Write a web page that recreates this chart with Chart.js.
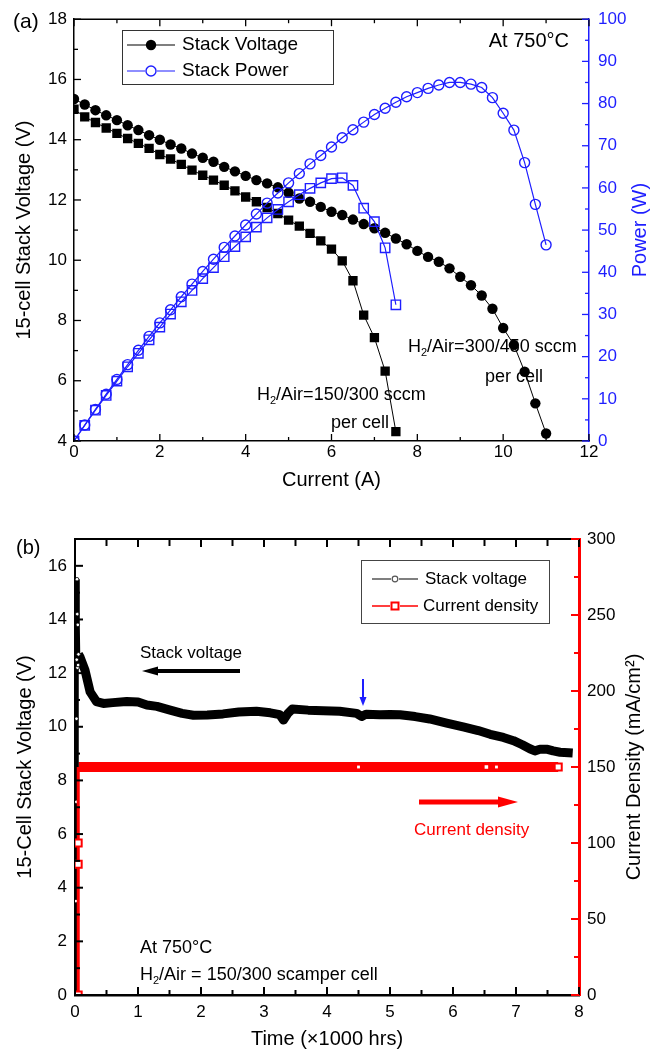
<!DOCTYPE html>
<html>
<head>
<meta charset="utf-8">
<script src="https://cdn.jsdelivr.net/npm/chart.js@4.4.0/dist/chart.umd.min.js"></script>
<style>
  html, body { margin: 0; padding: 0; background: #fff; }
  #wrap { position: relative; width: 664px; height: 1051px; }
  canvas { position: absolute; left: 0; }
  #chartA { top: 0; }
  #chartB { top: 492px; }
</style>
</head>
<body>
<div id="wrap">
  <canvas id="chartA" width="664" height="492"></canvas>
  <canvas id="chartB" width="664" height="559"></canvas>
</div>
<script>
// ---- panel (a): I-V-P curves, H2/Air = 300/450 sccm per cell (circles)
const currentHigh = [0, 0.25, 0.5, 0.75, 1, 1.25, 1.5, 1.75, 2, 2.25, 2.5, 2.75, 3, 3.25, 3.5, 3.75,
  4, 4.25, 4.5, 4.75, 5, 5.25, 5.5, 5.75, 6, 6.25, 6.5, 6.75, 7, 7.25, 7.5, 7.75,
  8, 8.25, 8.5, 8.75, 9, 9.25, 9.5, 9.75, 10, 10.25, 10.5, 10.75, 11];
const voltageHigh = [15.35, 15.17, 14.98, 14.81, 14.65, 14.48, 14.32, 14.15, 14.0, 13.84, 13.71, 13.54, 13.4, 13.27, 13.1, 12.95,
  12.8, 12.66, 12.55, 12.42, 12.24, 12.05, 11.94, 11.77, 11.61, 11.5, 11.35, 11.2, 11.06, 10.91, 10.72, 10.53,
  10.31, 10.11, 9.95, 9.73, 9.45, 9.17, 8.83, 8.39, 7.75, 7.19, 6.3, 5.25, 4.25];
const powerHigh = [0, 3.8, 7.5, 11.1, 14.6, 18.1, 21.5, 24.8, 28.0, 31.1, 34.2, 37.2, 40.2, 43.1, 45.9, 48.6,
  51.2, 53.8, 56.4, 58.8, 61.2, 63.4, 65.7, 67.7, 69.7, 71.9, 73.8, 75.6, 77.4, 78.9, 80.3, 81.6,
  82.6, 83.6, 84.4, 85.0, 85.0, 84.6, 83.8, 81.4, 77.7, 73.7, 66.0, 56.1, 46.5];

// H2/Air = 150/300 sccm per cell (squares)
const currentLow = [0, 0.25, 0.5, 0.75, 1, 1.25, 1.5, 1.75, 2, 2.25, 2.5, 2.75, 3, 3.25, 3.5, 3.75,
  4, 4.25, 4.5, 4.75, 5, 5.25, 5.5, 5.75, 6, 6.25, 6.5, 6.75, 7, 7.25, 7.5];
const voltageLow = [15.01, 14.76, 14.57, 14.39, 14.21, 14.04, 13.88, 13.71, 13.51, 13.36, 13.18, 12.99, 12.82, 12.66, 12.49, 12.3,
  12.1, 11.94, 11.75, 11.55, 11.33, 11.13, 10.89, 10.64, 10.37, 9.98, 9.32, 8.18, 7.43, 6.32, 4.31];
const powerLow = [0, 3.7, 7.3, 10.8, 14.2, 17.6, 20.8, 24.0, 27.0, 30.1, 33.0, 35.7, 38.5, 41.1, 43.7, 46.1,
  48.4, 50.7, 52.9, 54.9, 56.7, 58.4, 59.9, 61.2, 62.2, 62.4, 60.6, 55.2, 52.0, 45.8, 32.3];

// ---- panel (b): long-term test (time in 1000 hrs)
const spikeTime = [0.012, 0.016, 0.02, 0.024, 0.028, 0.032, 0.036, 0.04, 0.045, 0.05, 0.055];
const spikeVolt = [0, 3.5, 7.2, 10.3, 12.5, 15.5, 14.2, 12.2, 13.8, 12.3, 12.7];
const bandTime = [0.055, 0.08, 0.16, 0.24, 0.34, 0.45, 0.6, 0.82, 1.0, 1.14, 1.3, 1.51, 1.7, 1.88, 2.1, 2.35,
  2.6, 2.88, 3.1, 3.25, 3.31, 3.38, 3.45, 3.7, 3.94, 4.2, 4.47, 4.55, 4.62, 4.84, 5.0, 5.16,
  5.4, 5.63, 5.9, 6.16, 6.4, 6.59, 6.8, 6.96, 7.1, 7.22, 7.3, 7.38, 7.5, 7.59, 7.7, 7.9];
const bandVolt = [12.7, 12.6, 12.1, 11.3, 10.94, 10.87, 10.9, 10.94, 10.92, 10.81, 10.76, 10.62, 10.5, 10.43, 10.44, 10.48,
  10.55, 10.58, 10.52, 10.45, 10.25, 10.5, 10.66, 10.62, 10.6, 10.58, 10.5, 10.38, 10.47, 10.45, 10.46, 10.45,
  10.38, 10.29, 10.14, 10.0, 9.86, 9.72, 9.6, 9.48, 9.33, 9.18, 9.1, 9.16, 9.16, 9.1, 9.05, 9.02];
const cdStartTime = [0.05, 0.05, 0.05, 0.055];
const cdStartValue = [0, 86, 100, 150];
const cdBandTime = [0.055, 4.5, 6.53, 6.69, 7.67];
const cdBandValue = [150, 150, 150, 150, 150];

const FONT = "'Liberation Sans', Arial, Helvetica, sans-serif";
const BLUE = '#1e1eff';
const RED = '#ff0000';
Chart.defaults.font.family = FONT;
Chart.defaults.color = '#000';
Chart.defaults.animation = false;

function pts(xs, ys) {
    return xs.map((x, i) => ({ x: x, y: ys[i] }));
}

// Origin-style ticks pointing into the plot, plus the top frame line
const innerTicks = {
    id: 'innerTicks',
    afterDraw(chart, args, opts) {
        const ctx = chart.ctx;
        const a = chart.chartArea;
        ctx.save();
        ctx.strokeStyle = opts.topColor;
        ctx.lineWidth = opts.topWidth;
        ctx.beginPath();
        ctx.moveTo(a.left, a.top);
        ctx.lineTo(a.right, a.top);
        ctx.stroke();
        opts.axes.forEach(ax => {
            const s = chart.scales[ax.scale];
            const vals = s.ticks.map(t => t.value);
            ctx.strokeStyle = ax.color;
            ctx.lineWidth = ax.width;
            const tick = (v, len) => {
                const p = s.getPixelForValue(v);
                ctx.beginPath();
                if (ax.edge === 'bottom') { ctx.moveTo(p, a.bottom); ctx.lineTo(p, a.bottom - len); }
                else if (ax.edge === 'top') { ctx.moveTo(p, a.top); ctx.lineTo(p, a.top + len); }
                else if (ax.edge === 'left') { ctx.moveTo(a.left, p); ctx.lineTo(a.left + len, p); }
                else { ctx.moveTo(a.right, p); ctx.lineTo(a.right - len, p); }
                ctx.stroke();
            };
            vals.forEach(v => tick(v, ax.major));
            for (let i = 0; i < vals.length - 1; i++) {
                tick((vals[i] + vals[i + 1]) / 2, ax.minor);
            }
        });
        // right-hand axis title, read bottom to top like the left one
        if (opts.rightTitle) {
            const s = chart.scales.y2;
            ctx.translate(opts.rightTitle.x, (s.top + s.bottom) / 2);
            ctx.rotate(-Math.PI / 2);
            ctx.font = '20px ' + FONT;
            ctx.fillStyle = opts.rightTitle.color;
            ctx.textAlign = 'center';
            ctx.textBaseline = 'middle';
            ctx.fillText(opts.rightTitle.text, 0, 0);
        }
        ctx.restore();
    }
};

// text with a subscript part, left aligned, middle baseline
function subText(ctx, x, y, parts, size, color) {
    let cx = x;
    ctx.fillStyle = color || '#000';
    ctx.textAlign = 'left';
    ctx.textBaseline = 'middle';
    parts.forEach(p => {
        const sub = p[1];
        ctx.font = (sub ? Math.round(size * 0.62) : size) + 'px ' + FONT;
        ctx.fillText(p[0], cx, sub ? y + size * 0.32 : y);
        cx += ctx.measureText(p[0]).width;
    });
}

function label(ctx, text, x, y, size, color, align) {
    ctx.font = size + 'px ' + FONT;
    ctx.fillStyle = color || '#000';
    ctx.textAlign = align || 'left';
    ctx.textBaseline = 'middle';
    ctx.fillText(text, x, y);
}

function arrow(ctx, x1, y1, x2, y2, w, head, half, color) {
    const ang = Math.atan2(y2 - y1, x2 - x1);
    const bx = x2 - head * Math.cos(ang);
    const by = y2 - head * Math.sin(ang);
    ctx.strokeStyle = color;
    ctx.fillStyle = color;
    ctx.lineWidth = w;
    ctx.beginPath();
    ctx.moveTo(x1, y1);
    ctx.lineTo(bx, by);
    ctx.stroke();
    ctx.beginPath();
    ctx.moveTo(x2, y2);
    ctx.lineTo(bx + half * Math.sin(ang), by - half * Math.cos(ang));
    ctx.lineTo(bx - half * Math.sin(ang), by + half * Math.cos(ang));
    ctx.closePath();
    ctx.fill();
}

function axisTitle(text, color, pad) {
    return { display: true, text: text, color: color, font: { size: 20 }, padding: pad };
}

// ---------------- panel (a) ----------------
const notesA = {
    id: 'notesA',
    beforeDatasetsDraw(chart) {
        const ctx = chart.ctx;
        ctx.save();
        subText(ctx, 408, 347, [['H', false], ['2', true], ['/Air=300/450 sccm', false]], 18);
        label(ctx, 'per cell', 485, 377, 18);
        subText(ctx, 257, 395, [['H', false], ['2', true], ['/Air=150/300 sccm', false]], 18);
        label(ctx, 'per cell', 331, 423, 18);
        ctx.restore();
    },
    afterDraw(chart) {
        const ctx = chart.ctx;
        ctx.save();
        label(ctx, '(a)', 13, 22, 21);
        label(ctx, 'At 750°C', 569, 41, 20, '#000', 'right');
        // legend box
        ctx.strokeStyle = '#333';
        ctx.lineWidth = 1;
        ctx.fillStyle = '#fff';
        ctx.fillRect(122, 30, 211, 54);
        ctx.strokeRect(122.5, 30.5, 211, 54);
        ctx.lineWidth = 1.2;
        ctx.strokeStyle = '#000';
        ctx.beginPath(); ctx.moveTo(127, 45); ctx.lineTo(175, 45); ctx.stroke();
        ctx.fillStyle = '#000';
        ctx.beginPath(); ctx.arc(151, 45, 5.2, 0, Math.PI * 2); ctx.fill();
        ctx.strokeStyle = BLUE;
        ctx.beginPath(); ctx.moveTo(127, 71); ctx.lineTo(145, 71); ctx.moveTo(157, 71); ctx.lineTo(175, 71); ctx.stroke();
        ctx.lineWidth = 1.4;
        ctx.beginPath(); ctx.arc(151, 71, 5, 0, Math.PI * 2); ctx.stroke();
        label(ctx, 'Stack Voltage', 182, 45, 19);
        label(ctx, 'Stack Power', 182, 71, 19);
        ctx.restore();
    }
};

new Chart(document.getElementById('chartA'), {
    type: 'scatter',
    data: {
        datasets: [{
            label: 'Stack Power',
            data: pts(currentHigh, powerHigh),
            yAxisID: 'y2',
            showLine: true,
            borderColor: BLUE,
            borderWidth: 1.2,
            pointStyle: 'circle',
            pointRadius: 5,
            pointBorderWidth: 1.4,
            pointBorderColor: BLUE,
            pointBackgroundColor: 'rgba(255,255,255,0)',
            order: 1
        }, {
            label: 'Stack Power 150/300',
            data: pts(currentLow, powerLow),
            yAxisID: 'y2',
            showLine: true,
            borderColor: BLUE,
            borderWidth: 1.2,
            pointStyle: 'rect',
            pointRadius: 6.6,
            pointBorderWidth: 1.4,
            pointBorderColor: BLUE,
            pointBackgroundColor: 'rgba(255,255,255,0)',
            order: 1
        }, {
            label: 'Stack Voltage',
            data: pts(currentHigh, voltageHigh),
            yAxisID: 'y',
            showLine: true,
            borderColor: '#000',
            borderWidth: 1,
            pointStyle: 'circle',
            pointRadius: 5.2,
            pointBorderWidth: 0,
            pointBackgroundColor: '#000',
            order: 2
        }, {
            label: 'Stack Voltage 150/300',
            data: pts(currentLow, voltageLow),
            yAxisID: 'y',
            showLine: true,
            borderColor: '#000',
            borderWidth: 1,
            pointStyle: 'rect',
            pointRadius: 6.6,
            pointBorderWidth: 0,
            pointBackgroundColor: '#000',
            order: 2
        }]
    },
    options: {
        responsive: false,
        events: [],
        layout: { padding: { top: 19, left: 0, right: 0, bottom: 0 } },
        plugins: {
            legend: { display: false },
            tooltip: { enabled: false },
            innerTicks: {
                topColor: '#000',
                topWidth: 1.5,
                rightTitle: { text: 'Power (W)', color: BLUE, x: 640 },
                axes: [
                    { scale: 'x', edge: 'bottom', major: 7, minor: 4, color: '#000', width: 1.3 },
                    { scale: 'x', edge: 'top', major: 7, minor: 4, color: '#000', width: 1.3 },
                    { scale: 'y', edge: 'left', major: 7, minor: 4, color: '#000', width: 1.3 },
                    { scale: 'y2', edge: 'right', major: 7, minor: 4, color: BLUE, width: 1.3 }
                ]
            }
        },
        scales: {
            x: {
                type: 'linear', position: 'bottom', min: 0, max: 12,
                afterFit: s => { s.height = 51; },
                ticks: { stepSize: 2, padding: 1, includeBounds: false, font: { size: 17 }, color: '#000' },
                grid: { drawOnChartArea: false, drawTicks: false },
                border: { color: '#000', width: 1.5 },
                title: axisTitle('Current (A)', '#000', { top: 0, bottom: 0 })
            },
            y: {
                type: 'linear', position: 'left', min: 4, max: 18,
                afterFit: s => { s.width = 74; },
                ticks: { stepSize: 2, padding: 7, includeBounds: false, font: { size: 17 }, color: '#000' },
                grid: { drawOnChartArea: false, drawTicks: false },
                border: { color: '#000', width: 1.5 },
                title: axisTitle('15-cell Stack Voltage (V)', '#000', { top: 12, bottom: 0 })
            },
            y2: {
                type: 'linear', position: 'right', min: 0, max: 100,
                afterFit: s => { s.width = 75; },
                ticks: { stepSize: 10, padding: 9, includeBounds: false, font: { size: 17 }, color: BLUE },
                grid: { drawOnChartArea: false, drawTicks: false },
                border: { color: BLUE, width: 1.5 },
                title: { display: false }
            }
        }
    },
    plugins: [innerTicks, notesA]
});

// ---------------- panel (b) ----------------
const notesB = {
    id: 'notesB',
    afterDraw(chart) {
        const ctx = chart.ctx;
        ctx.save();
        label(ctx, '(b)', 16, 56, 20);
        // legend box
        ctx.fillStyle = '#fff';
        ctx.fillRect(361, 68, 188, 63);
        ctx.strokeStyle = '#444';
        ctx.lineWidth = 1;
        ctx.strokeRect(361.5, 68.5, 188, 63);
        ctx.lineWidth = 1.5;
        ctx.strokeStyle = '#555';
        ctx.beginPath(); ctx.moveTo(372, 87); ctx.lineTo(391, 87); ctx.moveTo(399, 87); ctx.lineTo(418, 87); ctx.stroke();
        ctx.lineWidth = 1.2;
        ctx.beginPath(); ctx.arc(395, 87, 2.8, 0, Math.PI * 2); ctx.stroke();
        ctx.strokeStyle = RED;
        ctx.lineWidth = 1.5;
        ctx.beginPath(); ctx.moveTo(372, 114); ctx.lineTo(390, 114); ctx.moveTo(400, 114); ctx.lineTo(418, 114); ctx.stroke();
        ctx.lineWidth = 2;
        ctx.strokeRect(391.5, 110.5, 7, 7);
        label(ctx, 'Stack voltage', 425, 87, 17);
        label(ctx, 'Current density', 423, 114, 17);

        label(ctx, 'Stack voltage', 140, 161, 17);
        arrow(ctx, 240, 179, 142, 179, 4, 16, 4.5, '#000');
        arrow(ctx, 363, 187, 363, 214, 2, 9, 3.5, BLUE);
        arrow(ctx, 419, 310, 518, 310, 5, 20, 5.5, RED);
        label(ctx, 'Current density', 414, 338, 17, RED);

        label(ctx, 'At 750°C', 140, 456, 18);
        subText(ctx, 140, 483, [['H', false], ['2', true], ['/Air = 150/300 scamper cell', false]], 18);
        ctx.restore();
    }
};

new Chart(document.getElementById('chartB'), {
    type: 'scatter',
    data: {
        datasets: [{
            label: 'Current density start',
            data: pts(cdStartTime, cdStartValue),
            yAxisID: 'y2',
            showLine: true,
            borderColor: RED,
            borderWidth: 3,
            pointStyle: 'rect',
            pointRadius: [5, 5, 5, 0],
            pointBorderWidth: 2,
            pointBorderColor: RED,
            pointBackgroundColor: '#fff',
            order: 0
        }, {
            label: 'Stack voltage start',
            data: pts(spikeTime, spikeVolt),
            yAxisID: 'y',
            showLine: true,
            borderColor: '#000',
            borderWidth: 4.5,
            pointStyle: 'circle',
            pointRadius: 1.8,
            pointBorderWidth: 0.8,
            pointBorderColor: '#000',
            pointBackgroundColor: '#fff',
            order: 1
        }, {
            label: 'Stack voltage',
            data: pts(bandTime, bandVolt),
            yAxisID: 'y',
            showLine: true,
            borderColor: '#000',
            borderWidth: 9,
            borderJoinStyle: 'round',
            pointRadius: 0,
            order: 2
        }, {
            label: 'Current density',
            data: pts(cdBandTime, cdBandValue),
            yAxisID: 'y2',
            showLine: true,
            borderColor: RED,
            borderWidth: 10,
            borderCapStyle: 'butt',
            pointStyle: 'rect',
            pointRadius: [0, 2, 2.5, 2, 5],
            pointBorderWidth: [0, 0, 0, 0, 2],
            pointBorderColor: RED,
            pointBackgroundColor: '#fff',
            order: 3
        }]
    },
    options: {
        responsive: false,
        events: [],
        layout: { padding: { top: 47, left: 0, right: 0, bottom: 0 } },
        plugins: {
            legend: { display: false },
            tooltip: { enabled: false },
            innerTicks: {
                topColor: '#000',
                topWidth: 2,
                rightTitle: { text: 'Current Density (mA/cm²)', color: '#000', x: 634 },
                axes: [
                    { scale: 'x', edge: 'bottom', major: 8, minor: 5, color: '#000', width: 2 },
                    { scale: 'x', edge: 'top', major: 8, minor: 7, color: '#000', width: 2 },
                    { scale: 'y', edge: 'left', major: 8, minor: 5, color: '#000', width: 2 },
                    { scale: 'y2', edge: 'right', major: 8, minor: 5, color: RED, width: 2 }
                ]
            }
        },
        scales: {
            x: {
                type: 'linear', position: 'bottom', min: 0, max: 8,
                afterFit: s => { s.height = 56; },
                ticks: { stepSize: 1, padding: 7, includeBounds: false, font: { size: 17 }, color: '#000' },
                grid: { drawOnChartArea: false, drawTicks: false },
                border: { color: '#000', width: 2.5 },
                title: axisTitle('Time (×1000 hrs)', '#000', { top: 0, bottom: 0 })
            },
            y: {
                type: 'linear', position: 'left', min: 0, max: 17,
                afterFit: s => { s.width = 75; },
                ticks: { stepSize: 2, padding: 8, includeBounds: false, font: { size: 17 }, color: '#000' },
                grid: { drawOnChartArea: false, drawTicks: false },
                border: { color: '#000', width: 2 },
                title: axisTitle('15-Cell Stack Voltage (V)', '#000', { top: 13, bottom: 0 })
            },
            y2: {
                type: 'linear', position: 'right', min: 0, max: 300,
                afterFit: s => { s.width = 85; },
                ticks: { stepSize: 50, padding: 8, includeBounds: false, font: { size: 17 }, color: '#000' },
                grid: { drawOnChartArea: false, drawTicks: false },
                border: { color: RED, width: 3 },
                title: { display: false }
            }
        }
    },
    plugins: [innerTicks, notesB]
});
</script>
</body>
</html>
